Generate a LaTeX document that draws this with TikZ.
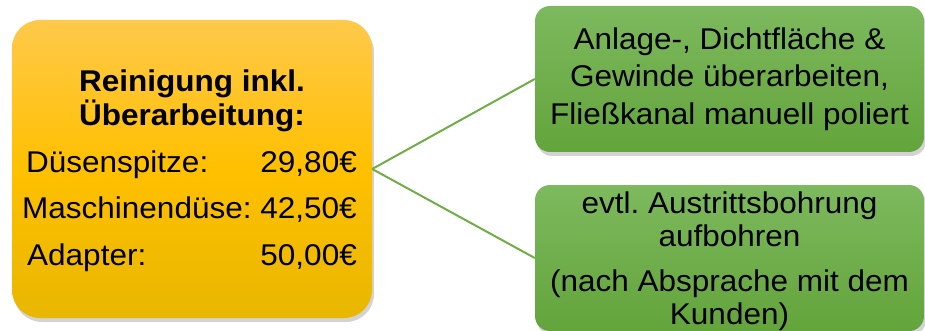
\documentclass[tikz,border=0pt]{standalone}
\usepackage{fontspec}
\setmainfont[FakeStretch=1.05]{Liberation Sans}
\usetikzlibrary{shadows}
\frenchspacing

\definecolor{orangetop}{HTML}{FFC94A}
\definecolor{orangemid}{HTML}{FFC000}
\definecolor{orangebot}{HTML}{E8B700}
\definecolor{greentop}{HTML}{7DB95E}
\definecolor{greenbot}{HTML}{63A43B}
\definecolor{linkgreen}{HTML}{70AD47}

\begin{document}
\begin{tikzpicture}[
        % we work in pixels, y grows downwards
        x=1pt, y=-1pt,
        price box/.style={rounded corners=28pt, inner sep=0pt,
            top color=orangetop, bottom color=orangebot, middle color=orangemid,
            drop shadow={shadow xshift=2pt, shadow yshift=-4pt, opacity=.35},
            minimum width=360pt, minimum height=298pt},
        work box/.style={rounded corners=15pt, inner sep=0pt, align=center,
            top color=greentop, bottom color=greenbot,
            drop shadow={shadow xshift=2pt, shadow yshift=-4pt, opacity=.35},
            minimum width=389pt, minimum height=146pt},
        title text/.style={font=\fontsize{30}{34}\selectfont\bfseries, inner sep=0pt},
        price text/.style={font=\fontsize{30}{34}\selectfont, inner sep=0pt},
        link/.style={draw=linkgreen, line width=2pt},
        every node/.style={color=black}
     ]
    \useasboundingbox (0,0) rectangle (925,331);
    % the price box on the left
    \node[price box] (price) at (192,169) {};
    \node[title text, anchor=base] (title1) at (192,92) {Reinigung inkl.};
    \node[title text, anchor=base] (title2) at (192,126) {Überarbeitung:};
    \node[price text, anchor=base west] (nozzle) at (26,172) {Düsenspitze:};
    \node[price text, anchor=base east] (nozzlep) at (357,172) {29,80€};
    \node[price text, anchor=base west] (machine) at (22,218) {Maschinendüse: 42,50€};
    \node[price text, anchor=base west] (adapter) at (27,265) {Adapter:};
    \node[price text, anchor=base east] (adapterp) at (357,265) {50,00€};
    % the work steps on the right
    \node[work box, font=\fontsize{30}{37.5}\selectfont] (rework) at (729.5,79)
        {Anlage-, Dichtfläche \&\\Gewinde überarbeiten,\\Fließkanal manuell poliert};
    \node[work box, font=\fontsize{30}{33}\selectfont, text depth=0pt] (drill) at (729.5,258)
        {evtl. Austrittsbohrung\\aufbohren\\[12pt](nach Absprache mit dem\\Kunden)};
    % connectors
    \draw[link] (price.east) -- (rework.west);
    \draw[link] (price.east) -- (drill.west);
\end{tikzpicture}
\end{document}
